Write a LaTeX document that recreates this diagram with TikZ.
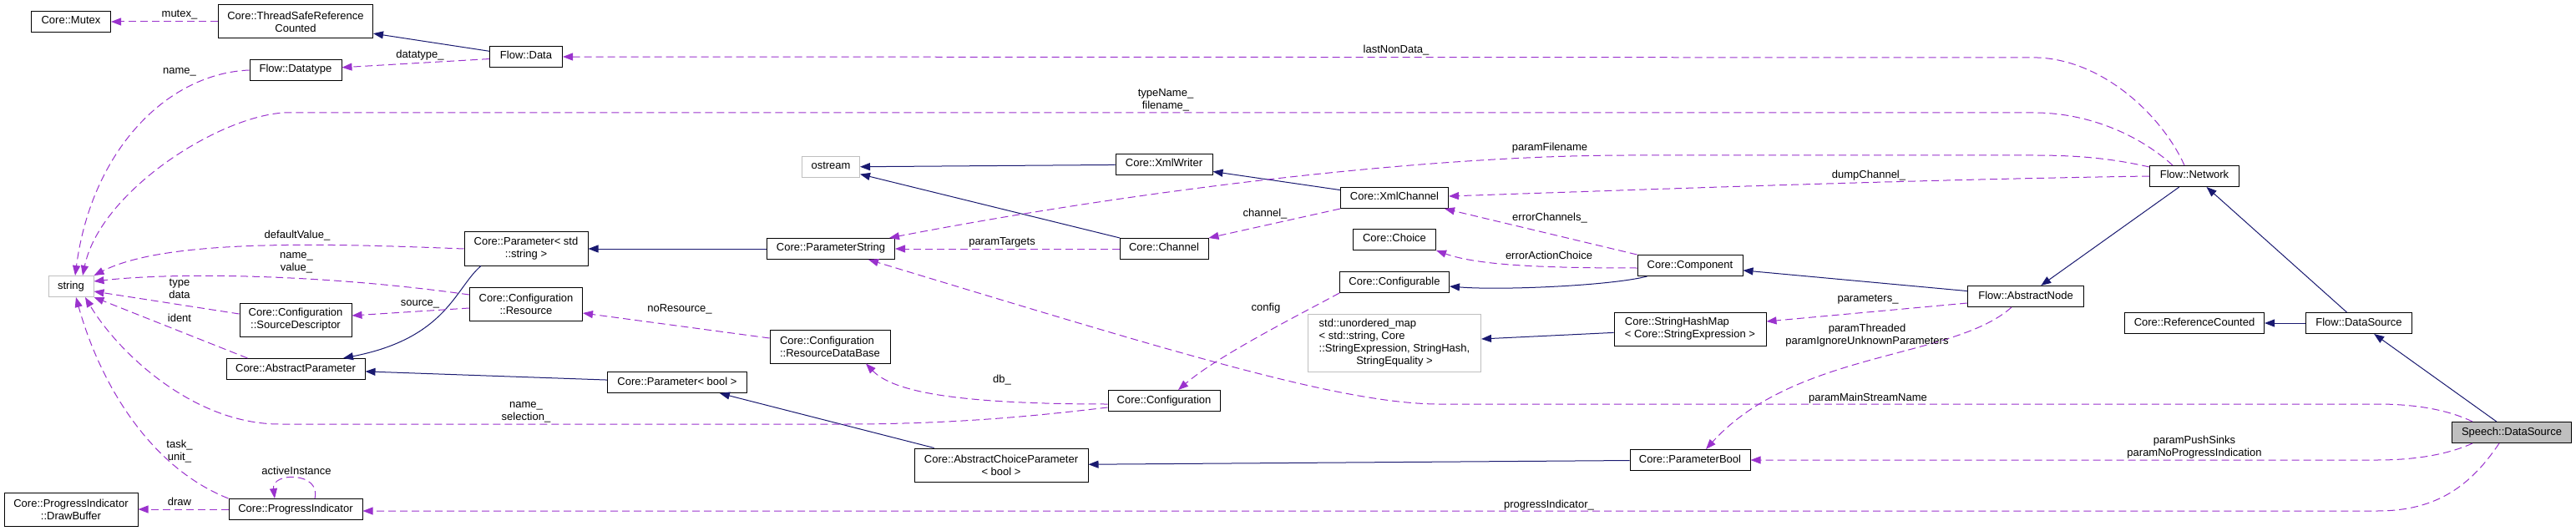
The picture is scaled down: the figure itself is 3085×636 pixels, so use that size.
\documentclass[tikz,border=0pt]{standalone}
\usepackage{fontspec}
\setmainfont{Liberation Sans}
\usetikzlibrary{arrows.meta}
\definecolor{inheritblue}{HTML}{191970}
\definecolor{usepurple}{HTML}{9A32CD}
\definecolor{extgray}{HTML}{BFBFBF}
\tikzset{
  cls/.style={draw=black, line width=1pt, fill=white, inner sep=0pt, minimum height=25pt, text height=9.5pt, text depth=3.5pt},
  clstwo/.style={draw=black, line width=1pt, fill=white, inner sep=0pt, minimum height=40pt, align=center},
  extcls/.style={cls, draw=extgray},
  mainnode/.style={cls, fill=extgray},
  lbl/.style={inner sep=0pt, text height=9pt, text depth=3pt},
  lbltwo/.style={inner sep=0pt, align=center},
  inherit/.style={draw=inheritblue, line width=1pt, -{Triangle[length=12pt,width=9pt]}},
  uses/.style={draw=usepurple, line width=1pt, dash pattern=on 9pt off 5pt, -{Triangle[length=12pt,width=9pt]}}
}
\begin{document}
\begin{tikzpicture}[x=1pt, y=-1pt, font=\fontsize{13}{15}\selectfont]
    \useasboundingbox (0,0) rectangle (3085,636);

    % Classes, left part
    \node[cls, minimum width=95pt] (mutex) at (85,26) {Core::Mutex};
    \node[clstwo, minimum width=185pt] (tsrc) at (354,26) {Core::ThreadSafeReference\\Counted};
    \node[cls, minimum width=87pt] (fdata) at (630,68) {Flow::Data};
    \node[cls, minimum width=110pt] (fdatatype) at (354,84) {Flow::Datatype};
    \node[extcls, minimum width=54pt] (string) at (85,343) {string};
    \node[clstwo, minimum width=148pt] (paramstd) at (630,298) {Core::Parameter< std\\::string >};
    \node[clstwo, minimum width=134pt] (srcdesc) at (354,383) {Core::Configuration\\::SourceDescriptor};
    \node[clstwo, minimum width=135pt] (resource) at (630,364) {Core::Configuration\\::Resource};
    \node[cls, minimum width=166pt] (absparam) at (354,442) {Core::AbstractParameter};
    \node[clstwo, minimum width=160pt] (drawbuf) at (85,610) {Core::ProgressIndicator\\::DrawBuffer};
    \node[cls, minimum width=160pt] (progress) at (354,610) {Core::ProgressIndicator};

    % Classes, middle part
    \node[extcls, minimum width=69pt] (ostream) at (995,200) {ostream};
    \node[cls, minimum width=153pt] (pstring) at (995,298) {Core::ParameterString};
    \node[clstwo, minimum width=144pt, align=left] (resdb) at (994,415) {Core::Configuration\\::ResourceDataBase};
    \node[cls, minimum width=167pt] (parambool) at (811,458) {Core::Parameter< bool >};
    \node[clstwo, minimum width=208pt] (abschoice) at (1199,557) {Core::AbstractChoiceParameter\\< bool >};
    \node[cls, minimum width=116pt] (xmlwriter) at (1394,197) {Core::XmlWriter};
    \node[cls, minimum width=129pt] (xmlchannel) at (1670,237) {Core::XmlChannel};
    \node[cls, minimum width=106pt] (channel) at (1394,298) {Core::Channel};
    \node[cls, minimum width=99pt] (choice) at (1670,287) {Core::Choice};
    \node[cls, minimum width=131pt] (configurable) at (1670,338) {Core::Configurable};
    \node[draw=extgray, line width=1pt, inner sep=0pt, minimum width=207pt, minimum height=69pt] (umap) at (1670,411)
        {\begin{tabular}{@{}l@{}}std::unordered\_map\\< std::string, Core\\::StringExpression, StringHash,\\\multicolumn{1}{@{}c@{}}{StringEquality >}\end{tabular}};
    \node[cls, minimum width=134pt] (configuration) at (1394,480) {Core::Configuration};

    % Classes, right part
    \node[cls, minimum width=126pt] (component) at (2024,318) {Core::Component};
    \node[cls, minimum width=139pt] (absnode) at (2426,355) {Flow::AbstractNode};
    \node[clstwo, minimum width=182pt, align=left] (strhash) at (2024,394) {Core::StringHashMap\\< Core::StringExpression >};
    \node[cls, minimum width=144pt] (pbool) at (2024,551) {Core::ParameterBool};
    \node[cls, minimum width=107pt] (network) at (2628,211) {Flow::Network};
    \node[cls, minimum width=167pt] (refcounted) at (2628,387) {Core::ReferenceCounted};
    \node[cls, minimum width=127pt] (fdatasource) at (2825,387) {Flow::DataSource};
    \node[mainnode, minimum width=143pt] (speech) at (3008,518) {Speech::DataSource};

    % Inheritance
    \draw[inherit] (fdata) -- (tsrc);
    \draw[inherit] ([xshift=-54pt]paramstd.south) .. controls (545,345) and (535,405) .. ([xshift=57pt]absparam.north);
    \draw[inherit] (pstring) -- (paramstd);
    \draw[inherit] (parambool) -- (absparam);
    \draw[inherit] (abschoice) -- (parambool);
    \draw[inherit] (xmlwriter) -- (ostream);
    \draw[inherit] (channel) -- (ostream);
    \draw[inherit] (xmlchannel) -- (xmlwriter);
    \draw[inherit] ([xshift=12pt]component.south west) .. controls (1930,342) and (1800,348) .. ([yshift=-5pt]configurable.east);
    \draw[inherit] (absnode) -- (component);
    \draw[inherit] (strhash) -- (umap);
    \draw[inherit] (pbool) -- (abschoice);
    \draw[inherit] (network) -- (absnode);
    \draw[inherit] (fdatasource) -- (network);
    \draw[inherit] (fdatasource) -- (refcounted);
    \draw[inherit] (speech) -- (fdatasource);

    % Usage, left part
    \draw[uses] (tsrc) -- (mutex);
    \draw[uses] (fdata) -- (fdatatype);
    \draw[uses] (fdatatype.west) .. controls (200,88) and (110,180) .. ([xshift=5pt]string.north);
    \draw[uses] ([xshift=-26pt]network.north) .. controls (2560,160) and (2500,136) .. (2440,135) -- (340,135)
        .. controls (260,140) and (120,230) .. ([xshift=14pt]string.north);
    \draw[uses] ([xshift=-12pt]network.north) .. controls (2590,140) and (2520,72) .. (2440,69) -- (fdata.east);
    \draw[uses] (paramstd.west) .. controls (400,292) and (200,285) .. (string.north east);
    \draw[uses] ([yshift=11pt]resource.west) .. controls (400,330) and (220,325) .. ([yshift=6pt]string.east);
    \draw[uses] ([yshift=7pt]srcdesc.west) -- ([yshift=-6pt]string.east);
    \draw[uses] ([yshift=-5pt]resource.west) -- ([yshift=5pt]srcdesc.east);
    \draw[uses] ([xshift=26pt]absparam.north west) -- (string.south east);
    \draw[uses] ([yshift=-8pt]configuration.west) .. controls (1250,497) and (1150,508) .. (1011,508) -- (335,508)
        .. controls (230,508) and (140,420) .. ([xshift=17pt]string.south);
    \draw[uses] ([yshift=10pt]resdb.west) -- ([yshift=-11pt]resource.east);
    \draw[uses] ([yshift=-4pt]configuration.west) .. controls (1150,484) and (1070,470) .. ([xshift=43pt]resdb.south);
    \draw[uses] (configurable.south west) .. controls (1560,375) and (1460,425) .. ([xshift=17pt]configuration.north);
    \draw[uses] (progress.north west) .. controls (180,560) and (120,460) .. ([xshift=6pt]string.south);
    \draw[uses] ([xshift=23pt]progress.north) .. controls (385,565) and (325,565) .. ([xshift=-25pt]progress.north);
    \draw[uses] (progress) -- (drawbuf);

    % Usage, right part
    \draw[uses] ([xshift=-15pt]speech.south) .. controls (2960,580) and (2920,612) .. (2847,612) -- ([yshift=-2pt]progress.east);
    \draw[uses] ([xshift=25pt]speech.south west) .. controls (2930,545) and (2890,551) .. (2847,551) -- (pbool.east);
    \draw[uses] ([xshift=25pt]speech.north west) .. controls (2930,490) and (2890,484) .. (2847,484) -- (1719,484)
        .. controls (1600,482) and (1400,420) .. ([xshift=45pt]pstring.south);
    \draw[uses] ([yshift=-2pt]network.north west) .. controls (2530,190) and (2490,186) .. (2436,186) -- (1950,186)
        .. controls (1700,186) and (1350,230) .. ([xshift=-7pt]pstring.north east);
    \draw[uses] (network.west) .. controls (2300,215) and (2000,226) .. ([yshift=2pt]xmlchannel.east);
    \draw[uses] (xmlchannel.south west) -- (channel.north east);
    \draw[uses] (component.north west) -- ([xshift=-5pt]xmlchannel.south east);
    \draw[uses] ([yshift=-3pt]component.west) .. controls (1850,321) and (1770,318) .. (choice.south east);
    \draw[uses] (channel) -- (pstring);
    \draw[uses] ([yshift=-8pt]absnode.west) -- ([yshift=9pt]strhash.east);
    \draw[uses] ([xshift=-17pt]absnode.south) .. controls (2340,430) and (2150,420) .. ([xshift=19pt]pbool.north);

    % Member labels
    \node[lbl] (lmutex) at (215,18) {mutex\_};
    \node[lbl] (ldatatype) at (503,67) {datatype\_};
    \node[lbl] (lname) at (215,86) {name\_};
    \node[lbl] (llastnondata) at (1672,61) {lastNonData\_};
    \node[lbltwo] (ltypename) at (1396,120) {typeName\_\\filename\_};
    \node[lbl] (ldefault) at (356,282) {defaultValue\_};
    \node[lbltwo] (lnamevalue) at (355,314.5) {name\_\\value\_};
    \node[lbltwo] (ltypedata) at (215,345.5) {type\\data};
    \node[lbl] (lsource) at (503,363) {source\_};
    \node[lbl] (lident) at (215,382) {ident};
    \node[lbltwo] (lselection) at (630,493.5) {name\_\\selection\_};
    \node[lbltwo] (ltask) at (215,540.5) {task\_\\unit\_};
    \node[lbl] (lactive) at (355,565) {activeInstance};
    \node[lbl] (ldraw) at (215,602) {draw};
    \node[lbl] (ltargets) at (1200,290) {paramTargets};
    \node[lbl] (lnores) at (814,370) {noResource\_};
    \node[lbl] (ldb) at (1200,455) {db\_};
    \node[lbl] (lfilename) at (1856,178) {paramFilename};
    \node[lbl] (lchannel) at (1515,257) {channel\_};
    \node[lbl] (lerrchan) at (1856,262) {errorChannels\_};
    \node[lbl] (lerrchoice) at (1855,307) {errorActionChoice};
    \node[lbl] (lconfig) at (1516,369) {config};
    \node[lbl] (lprogress) at (1855,605) {progressIndicator\_};
    \node[lbl] (ldump) at (2238,211) {dumpChannel\_};
    \node[lbl] (lparams) at (2237,358) {parameters\_};
    \node[lbltwo] (lthreaded) at (2236,402) {paramThreaded\\paramIgnoreUnknownParameters};
    \node[lbl] (lmainstream) at (2237,477) {paramMainStreamName};
    \node[lbltwo] (lpush) at (2628,536) {paramPushSinks\\paramNoProgressIndication};

\end{tikzpicture}
\end{document}
